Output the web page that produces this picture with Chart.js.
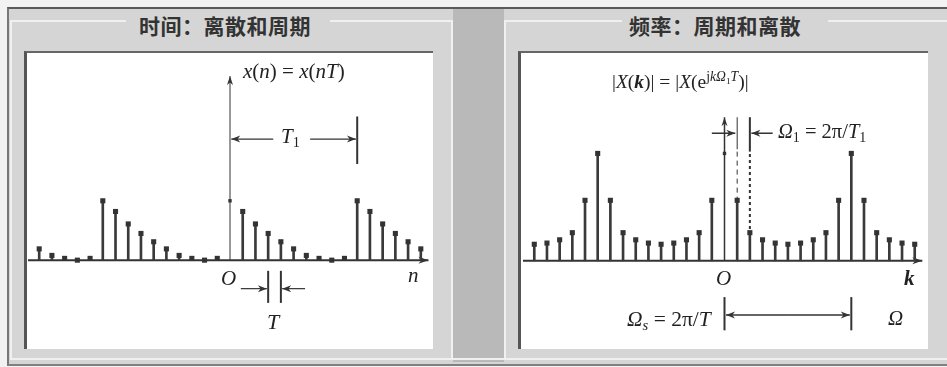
<!DOCTYPE html>
<html>
<head>
<meta charset="utf-8">
<script src="https://cdn.jsdelivr.net/npm/chart.js@4.4.1/dist/chart.umd.min.js"></script>
<style>
    body { margin: 0; width: 947px; height: 367px; position: relative; overflow: hidden; background: #f2f2f2; }
    .abs { position: absolute; }
    #frame { left: 7px; top: 7px; width: 940px; height: 355px; background: #d5d5d5; border-top: 2px solid #5a5a5a; border-left: 2px solid #777; border-bottom: 2px solid #808080; }
    #gutter { left: 453px; top: 9px; width: 51px; height: 353px; background: #b9b9b9; }
    .lite { background: #f0f0f0; }
    .plot { background: #fff; border-left: 3px solid #555; border-top: 2px solid #666; box-sizing: border-box; }
    .title { font-family: "Noto Sans CJK SC", sans-serif; font-weight: 700; font-size: 21px; color: #333; line-height: 1; white-space: nowrap; letter-spacing: 0.5px; }
    .m { font-family: "Liberation Serif", "Times New Roman", serif; color: #222; line-height: 1; white-space: nowrap; font-size: 21px; }
    .m i { font-style: italic; }
    .m sub { font-size: 0.68em; vertical-align: -0.3em; line-height: 0; }
    .m sup { font-size: 0.7em; vertical-align: 0.5em; line-height: 0; }
    canvas { position: absolute; }
</style>
</head>
<body>
<div id="frame" class="abs"></div>
<div id="gutter" class="abs"></div>
<!-- light panel edges -->
<div class="abs lite" style="left:10px;top:20px;width:2px;height:340px"></div>
<div class="abs lite" style="left:10px;top:20px;width:116px;height:2px"></div>
<div class="abs lite" style="left:330px;top:20px;width:122px;height:2px"></div>
<div class="abs lite" style="left:451px;top:20px;width:2px;height:340px"></div>
<div class="abs lite" style="left:504px;top:20px;width:2px;height:340px"></div>
<div class="abs lite" style="left:504px;top:20px;width:118px;height:2px"></div>
<div class="abs lite" style="left:828px;top:20px;width:119px;height:2px"></div>
<div class="abs lite" style="left:10px;top:358px;width:937px;height:2px"></div>

<div class="abs title" style="left:139px;top:15px">时间：离散和周期</div>
<div class="abs title" style="left:629px;top:15px">频率：周期和离散</div>

<div class="abs plot" style="left:24px;top:51px;width:409px;height:298px"></div>
<div class="abs plot" style="left:518px;top:51px;width:410px;height:298px"></div>

<canvas id="timeChart" width="412" height="298" style="left:24px;top:52px"></canvas>
<canvas id="freqChart" width="411" height="298" style="left:519px;top:52px"></canvas>

<!-- labels, time panel -->
<div class="abs m" style="left:243px;top:61px"><i>x</i>(<i>n</i>) = <i>x</i>(<i>nT</i>)</div>
<div class="abs m" style="left:281px;top:126px"><i>T</i><sub>1</sub></div>
<div class="abs m" style="left:221px;top:268px"><i>O</i></div>
<div class="abs m" style="left:408px;top:265px"><i>n</i></div>
<div class="abs m" style="left:267px;top:311px;font-size:22px"><i>T</i></div>

<!-- labels, frequency panel -->
<div class="abs m" style="left:612px;top:72px;font-size:19.5px">|<i>X</i>(<b><i>k</i></b>)| = |<i>X</i>(e<sup>j<i>k</i><i>Ω</i><sub>1</sub><i>T</i></sup>)|</div>
<div class="abs m" style="left:778px;top:121px;font-size:20.5px"><i>Ω</i><sub>1</sub> = 2π/<i>T</i><sub>1</sub></div>
<div class="abs m" style="left:716px;top:268px"><i>O</i></div>
<div class="abs m" style="left:904px;top:268px"><b><i>k</i></b></div>
<div class="abs m" style="left:627px;top:309px;font-size:21.5px"><i>Ω<sub>s</sub></i> = 2π/<i>T</i></div>
<div class="abs m" style="left:888px;top:308px"><i>Ω</i></div>

<script>
// sample index n and k, -15 .. 15
const nIndex = [-15, -14, -13, -12, -11, -10, -9, -8, -7, -6, -5, -4, -3, -2, -1, 0,
                1, 2, 3, 4, 5, 6, 7, 8, 9, 10, 11, 12, 13, 14, 15];
const kIndex = nIndex;

// x(n), one period is 10 samples
const xValues = [0.19, 0.08, 0.03, 0, 0.03, 1.0, 0.82, 0.61, 0.45, 0.31,
                 0.19, 0.08, 0.03, 0, 0.03, 1.0, 0.82, 0.61, 0.45, 0.31,
                 0.19, 0.08, 0.03, 0, 0.03, 1.0, 0.82, 0.61, 0.45, 0.31, 0.19];

// |X(k)|
const XValues = [0.28, 0.30, 0.355, 0.475, 1.02, 1.81, 1.02, 0.475, 0.355, 0.30,
                 0.28, 0.30, 0.355, 0.475, 1.02, 1.81, 1.02, 0.475, 0.355, 0.30,
                 0.28, 0.30, 0.355, 0.475, 1.02, 1.81, 1.02, 0.475, 0.355, 0.30, 0.28];

const period = 10;

const INK = "#333";

function toXY(xs, ys) {
    return xs.map((x, i) => ({ x: x, y: ys[i] }));
}

function pt(chart, x, y) {
    return [chart.scales.x.getPixelForValue(x), chart.scales.y.getPixelForValue(y)];
}

function seg(ctx, chart, x1, y1, x2, y2, width, dash) {
    const a = pt(chart, x1, y1);
    const b = pt(chart, x2, y2);
    ctx.save();
    ctx.strokeStyle = INK;
    ctx.lineWidth = width;
    ctx.setLineDash(dash || []);
    ctx.beginPath();
    ctx.moveTo(a[0], a[1]);
    ctx.lineTo(b[0], b[1]);
    ctx.stroke();
    ctx.restore();
}

// arrow head with its tip at (x2, y2), pointing away from (x1, y1)
function head(ctx, chart, x1, y1, x2, y2, len, half) {
    const a = pt(chart, x1, y1);
    const b = pt(chart, x2, y2);
    const ang = Math.atan2(b[1] - a[1], b[0] - a[0]);
    ctx.save();
    ctx.fillStyle = INK;
    ctx.translate(b[0], b[1]);
    ctx.rotate(ang);
    ctx.beginPath();
    ctx.moveTo(0, 0);
    ctx.lineTo(-len, -half);
    ctx.lineTo(-len * 0.7, 0);
    ctx.lineTo(-len, half);
    ctx.closePath();
    ctx.fill();
    ctx.restore();
}

function arrow(ctx, chart, x1, y1, x2, y2, width) {
    seg(ctx, chart, x1, y1, x2, y2, width);
    head(ctx, chart, x1, y1, x2, y2, 9, 3.5);
}

function axes(chart, yTop, yWidth) {
    const ctx = chart.ctx;
    const left = chart.scales.x.min;
    seg(ctx, chart, left, 0, 15.6, 0, 2);
    head(ctx, chart, left, 0, 15.6, 0, 10, 3.5);
    seg(ctx, chart, 0, 0, 0, yTop, yWidth);
    head(ctx, chart, 0, 0, 0, yTop, 9, 3);
}

const timeMarks = {
    id: "timeMarks",
    beforeDatasetsDraw(chart) {
        axes(chart, 3.1, 1);
    },
    afterDatasetsDraw(chart) {
        const ctx = chart.ctx;
        // T1 : one period
        seg(ctx, chart, period, 1.62, period, 2.42, 2);
        arrow(ctx, chart, 3.4, 2.04, 0.1, 2.04, 1.2);
        arrow(ctx, chart, 6.3, 2.04, period - 0.1, 2.04, 1.2);
        // T : one sample
        seg(ctx, chart, 3, -0.18, 3, -0.72, 2);
        seg(ctx, chart, 4, -0.18, 4, -0.72, 2);
        arrow(ctx, chart, 0.85, -0.48, 2.9, -0.48, 1.2);
        arrow(ctx, chart, 5.9, -0.48, 4.1, -0.48, 1.2);
    }
};

const freqMarks = {
    id: "freqMarks",
    beforeDatasetsDraw(chart) {
        axes(chart, 2.42, 1.5);
    },
    afterDatasetsDraw(chart) {
        const ctx = chart.ctx;
        // Omega_1 : spacing of the lines
        seg(ctx, chart, 1, 2.42, 1, 1.88, 1);
        seg(ctx, chart, 1, 1.84, 1, 1.05, 1, [5, 4]);
        seg(ctx, chart, 2, 2.42, 2, 1.84, 2);
        seg(ctx, chart, 2, 1.8, 2, 0.5, 2, [3, 3]);
        arrow(ctx, chart, -1.0, 2.15, 0.85, 2.15, 1.5);
        arrow(ctx, chart, 3.8, 2.15, 2.12, 2.15, 1.5);
        // Omega_s : one period of the spectrum
        seg(ctx, chart, 0, -0.61, 0, -1.17, 2);
        seg(ctx, chart, period, -0.61, period, -1.17, 2);
        arrow(ctx, chart, 5, -0.91, 0.12, -0.91, 1.5);
        arrow(ctx, chart, 5, -0.91, period - 0.12, -0.91, 1.5);
    }
};

function stemChart(canvas, xs, ys, xRange, yRange, plugin, stemWidth) {
    const pts = toXY(xs, ys);
    return new Chart(canvas, {
        type: "bar",
        data: {
            datasets: [
                {
                    type: "bar",
                    data: pts,
                    barThickness: stemWidth,
                    // the stem at 0 is the vertical axis, drawn by the plugin
                    backgroundColor: (c) => (c.raw && c.raw.x === 0 ? "rgba(0,0,0,0)" : "#3a3a3a"),
                    borderWidth: 0,
                    order: 2,
                },
                {
                    type: "scatter",
                    data: pts,
                    pointStyle: "rect",
                    pointRadius: (c) => (c.raw && c.raw.x === 0 ? 2.4 : 3.6),
                    backgroundColor: INK,
                    borderWidth: 0,
                    order: 1,
                },
            ],
        },
        options: {
            responsive: false,
            animation: false,
            devicePixelRatio: 1,
            layout: { padding: 0 },
            scales: {
                x: { type: "linear", min: xRange[0], max: xRange[1], offset: false, display: false },
                y: { type: "linear", min: yRange[0], max: yRange[1], display: false },
            },
            plugins: { legend: { display: false }, tooltip: { enabled: false } },
        },
        plugins: [plugin],
    });
}

stemChart(document.getElementById("timeChart"), nIndex, xValues,
    [-15.88, 15.88], [-1.446, 3.439], timeMarks, 2);
stemChart(document.getElementById("freqChart"), kIndex, XValues,
    [-15.89, 15.89], [-1.434, 3.451], freqMarks, 2);
</script>
</body>
</html>
